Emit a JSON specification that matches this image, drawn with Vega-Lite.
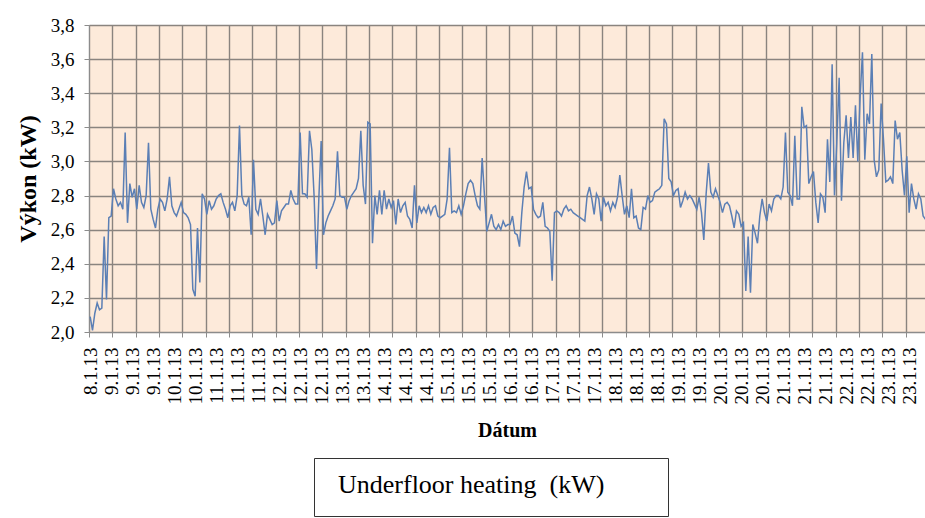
{
"$schema":"https://vega.github.io/schema/vega-lite/v6.json",
"width":836,"height":307,
"autosize":{"type":"none"},
"padding":{"left":89,"top":25,"right":0,"bottom":186},
"background":"#ffffff",
"config":{
 "locale":{"number":{"decimal":",","thousands":" ","grouping":[3],"currency":["",""]}},
 "view":{"fill":"#FDEADA","stroke":null},
 "axis":{"labelFont":"Liberation Serif","titleFont":"Liberation Serif","labelColor":"#000000","titleColor":"#000000","labelFontSize":19,"gridColor":"#8a847f","gridWidth":1.4,"domainColor":"#8c8c8c","tickColor":"#8c8c8c"}
},
"data":{"values":[
{"t":"2013-01-08T19:00","v":2.09},{"t":"2013-01-08T20:00","v":2.01},{"t":"2013-01-08T21:00","v":2.11},{"t":"2013-01-08T22:00","v":2.17},{"t":"2013-01-08T23:00","v":2.13},
{"t":"2013-01-09T00:00","v":2.14},{"t":"2013-01-09T01:00","v":2.56},{"t":"2013-01-09T02:00","v":2.19},{"t":"2013-01-09T03:00","v":2.67},{"t":"2013-01-09T04:00","v":2.68},{"t":"2013-01-09T05:00","v":2.84},{"t":"2013-01-09T06:00","v":2.78},{"t":"2013-01-09T07:00","v":2.74},{"t":"2013-01-09T08:00","v":2.76},{"t":"2013-01-09T09:00","v":2.72},{"t":"2013-01-09T10:00","v":3.17},{"t":"2013-01-09T11:00","v":2.64},{"t":"2013-01-09T12:00","v":2.87},{"t":"2013-01-09T13:00","v":2.79},{"t":"2013-01-09T14:00","v":2.84},{"t":"2013-01-09T15:00","v":2.72},{"t":"2013-01-09T16:00","v":2.86},{"t":"2013-01-09T17:00","v":2.76},{"t":"2013-01-09T18:00","v":2.73},{"t":"2013-01-09T19:00","v":2.80},{"t":"2013-01-09T20:00","v":3.11},{"t":"2013-01-09T21:00","v":2.72},{"t":"2013-01-09T22:00","v":2.66},{"t":"2013-01-09T23:00","v":2.61},
{"t":"2013-01-10T00:00","v":2.72},{"t":"2013-01-10T01:00","v":2.78},{"t":"2013-01-10T02:00","v":2.76},{"t":"2013-01-10T03:00","v":2.71},{"t":"2013-01-10T04:00","v":2.78},{"t":"2013-01-10T05:00","v":2.91},{"t":"2013-01-10T06:00","v":2.74},{"t":"2013-01-10T07:00","v":2.70},{"t":"2013-01-10T08:00","v":2.68},{"t":"2013-01-10T09:00","v":2.72},{"t":"2013-01-10T10:00","v":2.76},{"t":"2013-01-10T11:00","v":2.70},{"t":"2013-01-10T12:00","v":2.69},{"t":"2013-01-10T13:00","v":2.67},{"t":"2013-01-10T14:00","v":2.63},{"t":"2013-01-10T15:00","v":2.25},{"t":"2013-01-10T16:00","v":2.21},{"t":"2013-01-10T17:00","v":2.61},{"t":"2013-01-10T18:00","v":2.29},{"t":"2013-01-10T19:00","v":2.81},{"t":"2013-01-10T20:00","v":2.78},{"t":"2013-01-10T21:00","v":2.69},{"t":"2013-01-10T22:00","v":2.77},{"t":"2013-01-10T23:00","v":2.72},
{"t":"2013-01-11T00:00","v":2.74},{"t":"2013-01-11T01:00","v":2.78},{"t":"2013-01-11T02:00","v":2.80},{"t":"2013-01-11T03:00","v":2.81},{"t":"2013-01-11T04:00","v":2.76},{"t":"2013-01-11T05:00","v":2.72},{"t":"2013-01-11T06:00","v":2.67},{"t":"2013-01-11T07:00","v":2.74},{"t":"2013-01-11T08:00","v":2.76},{"t":"2013-01-11T09:00","v":2.71},{"t":"2013-01-11T10:00","v":2.80},{"t":"2013-01-11T11:00","v":3.21},{"t":"2013-01-11T12:00","v":2.80},{"t":"2013-01-11T13:00","v":2.75},{"t":"2013-01-11T14:00","v":2.74},{"t":"2013-01-11T15:00","v":2.79},{"t":"2013-01-11T16:00","v":2.57},{"t":"2013-01-11T17:00","v":3.01},{"t":"2013-01-11T18:00","v":2.72},{"t":"2013-01-11T19:00","v":2.69},{"t":"2013-01-11T20:00","v":2.78},{"t":"2013-01-11T21:00","v":2.68},{"t":"2013-01-11T22:00","v":2.57},{"t":"2013-01-11T23:00","v":2.69},
{"t":"2013-01-12T00:00","v":2.66},{"t":"2013-01-12T01:00","v":2.63},{"t":"2013-01-12T02:00","v":2.64},{"t":"2013-01-12T03:00","v":2.77},{"t":"2013-01-12T04:00","v":2.65},{"t":"2013-01-12T05:00","v":2.71},{"t":"2013-01-12T06:00","v":2.73},{"t":"2013-01-12T07:00","v":2.75},{"t":"2013-01-12T08:00","v":2.75},{"t":"2013-01-12T09:00","v":2.83},{"t":"2013-01-12T10:00","v":2.78},{"t":"2013-01-12T11:00","v":2.75},{"t":"2013-01-12T12:00","v":2.75},{"t":"2013-01-12T13:00","v":3.17},{"t":"2013-01-12T14:00","v":2.81},{"t":"2013-01-12T15:00","v":2.81},{"t":"2013-01-12T16:00","v":2.79},{"t":"2013-01-12T17:00","v":3.18},{"t":"2013-01-12T18:00","v":3.07},{"t":"2013-01-12T19:00","v":2.79},{"t":"2013-01-12T20:00","v":2.37},{"t":"2013-01-12T21:00","v":2.78},{"t":"2013-01-12T22:00","v":3.12},{"t":"2013-01-12T23:00","v":2.57},
{"t":"2013-01-13T00:00","v":2.64},{"t":"2013-01-13T01:00","v":2.68},{"t":"2013-01-13T02:00","v":2.71},{"t":"2013-01-13T03:00","v":2.74},{"t":"2013-01-13T04:00","v":2.78},{"t":"2013-01-13T05:00","v":3.06},{"t":"2013-01-13T06:00","v":2.80},{"t":"2013-01-13T07:00","v":2.79},{"t":"2013-01-13T08:00","v":2.79},{"t":"2013-01-13T09:00","v":2.72},{"t":"2013-01-13T10:00","v":2.77},{"t":"2013-01-13T11:00","v":2.80},{"t":"2013-01-13T12:00","v":2.82},{"t":"2013-01-13T13:00","v":2.84},{"t":"2013-01-13T14:00","v":2.90},{"t":"2013-01-13T15:00","v":3.18},{"t":"2013-01-13T16:00","v":2.86},{"t":"2013-01-13T17:00","v":2.75},{"t":"2013-01-13T18:00","v":3.23},{"t":"2013-01-13T19:00","v":3.22},{"t":"2013-01-13T20:00","v":2.52},{"t":"2013-01-13T21:00","v":2.80},{"t":"2013-01-13T22:00","v":2.69},{"t":"2013-01-13T23:00","v":2.83},
{"t":"2013-01-14T00:00","v":2.69},{"t":"2013-01-14T01:00","v":2.83},{"t":"2013-01-14T02:00","v":2.72},{"t":"2013-01-14T03:00","v":2.78},{"t":"2013-01-14T04:00","v":2.73},{"t":"2013-01-14T05:00","v":2.77},{"t":"2013-01-14T06:00","v":2.63},{"t":"2013-01-14T07:00","v":2.78},{"t":"2013-01-14T08:00","v":2.70},{"t":"2013-01-14T09:00","v":2.74},{"t":"2013-01-14T10:00","v":2.76},{"t":"2013-01-14T11:00","v":2.68},{"t":"2013-01-14T12:00","v":2.66},{"t":"2013-01-14T13:00","v":2.61},{"t":"2013-01-14T14:00","v":2.86},{"t":"2013-01-14T15:00","v":2.64},{"t":"2013-01-14T16:00","v":2.74},{"t":"2013-01-14T17:00","v":2.70},{"t":"2013-01-14T18:00","v":2.73},{"t":"2013-01-14T19:00","v":2.70},{"t":"2013-01-14T20:00","v":2.74},{"t":"2013-01-14T21:00","v":2.69},{"t":"2013-01-14T22:00","v":2.73},{"t":"2013-01-14T23:00","v":2.74},
{"t":"2013-01-15T00:00","v":2.68},{"t":"2013-01-15T01:00","v":2.67},{"t":"2013-01-15T02:00","v":2.68},{"t":"2013-01-15T03:00","v":2.69},{"t":"2013-01-15T04:00","v":2.78},{"t":"2013-01-15T05:00","v":3.08},{"t":"2013-01-15T06:00","v":2.70},{"t":"2013-01-15T07:00","v":2.71},{"t":"2013-01-15T08:00","v":2.70},{"t":"2013-01-15T09:00","v":2.74},{"t":"2013-01-15T10:00","v":2.69},{"t":"2013-01-15T11:00","v":2.74},{"t":"2013-01-15T12:00","v":2.81},{"t":"2013-01-15T13:00","v":2.87},{"t":"2013-01-15T14:00","v":2.89},{"t":"2013-01-15T15:00","v":2.87},{"t":"2013-01-15T16:00","v":2.80},{"t":"2013-01-15T17:00","v":2.74},{"t":"2013-01-15T18:00","v":2.72},{"t":"2013-01-15T19:00","v":3.02},{"t":"2013-01-15T20:00","v":2.80},{"t":"2013-01-15T21:00","v":2.59},{"t":"2013-01-15T22:00","v":2.64},{"t":"2013-01-15T23:00","v":2.69},
{"t":"2013-01-16T00:00","v":2.62},{"t":"2013-01-16T01:00","v":2.60},{"t":"2013-01-16T02:00","v":2.63},{"t":"2013-01-16T03:00","v":2.60},{"t":"2013-01-16T04:00","v":2.65},{"t":"2013-01-16T05:00","v":2.62},{"t":"2013-01-16T06:00","v":2.63},{"t":"2013-01-16T07:00","v":2.63},{"t":"2013-01-16T08:00","v":2.68},{"t":"2013-01-16T09:00","v":2.58},{"t":"2013-01-16T10:00","v":2.57},{"t":"2013-01-16T11:00","v":2.50},{"t":"2013-01-16T12:00","v":2.70},{"t":"2013-01-16T13:00","v":2.85},{"t":"2013-01-16T14:00","v":2.94},{"t":"2013-01-16T15:00","v":2.84},{"t":"2013-01-16T16:00","v":2.85},{"t":"2013-01-16T17:00","v":2.72},{"t":"2013-01-16T18:00","v":2.69},{"t":"2013-01-16T19:00","v":2.67},{"t":"2013-01-16T20:00","v":2.68},{"t":"2013-01-16T21:00","v":2.76},{"t":"2013-01-16T22:00","v":2.62},{"t":"2013-01-16T23:00","v":2.61},
{"t":"2013-01-17T00:00","v":2.59},{"t":"2013-01-17T01:00","v":2.30},{"t":"2013-01-17T02:00","v":2.70},{"t":"2013-01-17T03:00","v":2.71},{"t":"2013-01-17T04:00","v":2.70},{"t":"2013-01-17T05:00","v":2.68},{"t":"2013-01-17T06:00","v":2.72},{"t":"2013-01-17T07:00","v":2.74},{"t":"2013-01-17T08:00","v":2.71},{"t":"2013-01-17T09:00","v":2.72},{"t":"2013-01-17T10:00","v":2.70},{"t":"2013-01-17T11:00","v":2.69},{"t":"2013-01-17T12:00","v":2.68},{"t":"2013-01-17T13:00","v":2.67},{"t":"2013-01-17T14:00","v":2.66},{"t":"2013-01-17T15:00","v":2.65},{"t":"2013-01-17T16:00","v":2.80},{"t":"2013-01-17T17:00","v":2.85},{"t":"2013-01-17T18:00","v":2.78},{"t":"2013-01-17T19:00","v":2.69},{"t":"2013-01-17T20:00","v":2.81},{"t":"2013-01-17T21:00","v":2.78},{"t":"2013-01-17T22:00","v":2.65},{"t":"2013-01-17T23:00","v":2.79},
{"t":"2013-01-18T00:00","v":2.74},{"t":"2013-01-18T01:00","v":2.76},{"t":"2013-01-18T02:00","v":2.71},{"t":"2013-01-18T03:00","v":2.76},{"t":"2013-01-18T04:00","v":2.73},{"t":"2013-01-18T05:00","v":2.79},{"t":"2013-01-18T06:00","v":2.92},{"t":"2013-01-18T07:00","v":2.80},{"t":"2013-01-18T08:00","v":2.69},{"t":"2013-01-18T09:00","v":2.74},{"t":"2013-01-18T10:00","v":2.67},{"t":"2013-01-18T11:00","v":2.84},{"t":"2013-01-18T12:00","v":2.67},{"t":"2013-01-18T13:00","v":2.68},{"t":"2013-01-18T14:00","v":2.61},{"t":"2013-01-18T15:00","v":2.60},{"t":"2013-01-18T16:00","v":2.73},{"t":"2013-01-18T17:00","v":2.72},{"t":"2013-01-18T18:00","v":2.80},{"t":"2013-01-18T19:00","v":2.76},{"t":"2013-01-18T20:00","v":2.77},{"t":"2013-01-18T21:00","v":2.82},{"t":"2013-01-18T22:00","v":2.83},{"t":"2013-01-18T23:00","v":2.84},
{"t":"2013-01-19T00:00","v":2.86},{"t":"2013-01-19T01:00","v":3.25},{"t":"2013-01-19T02:00","v":3.22},{"t":"2013-01-19T03:00","v":2.90},{"t":"2013-01-19T04:00","v":2.88},{"t":"2013-01-19T05:00","v":2.80},{"t":"2013-01-19T06:00","v":2.83},{"t":"2013-01-19T07:00","v":2.84},{"t":"2013-01-19T08:00","v":2.73},{"t":"2013-01-19T09:00","v":2.77},{"t":"2013-01-19T10:00","v":2.82},{"t":"2013-01-19T11:00","v":2.78},{"t":"2013-01-19T12:00","v":2.80},{"t":"2013-01-19T13:00","v":2.78},{"t":"2013-01-19T14:00","v":2.75},{"t":"2013-01-19T15:00","v":2.72},{"t":"2013-01-19T16:00","v":2.79},{"t":"2013-01-19T17:00","v":2.70},{"t":"2013-01-19T18:00","v":2.54},{"t":"2013-01-19T19:00","v":2.81},{"t":"2013-01-19T20:00","v":2.99},{"t":"2013-01-19T21:00","v":2.82},{"t":"2013-01-19T22:00","v":2.79},{"t":"2013-01-19T23:00","v":2.84},
{"t":"2013-01-20T00:00","v":2.80},{"t":"2013-01-20T01:00","v":2.76},{"t":"2013-01-20T02:00","v":2.70},{"t":"2013-01-20T03:00","v":2.75},{"t":"2013-01-20T04:00","v":2.76},{"t":"2013-01-20T05:00","v":2.74},{"t":"2013-01-20T06:00","v":2.68},{"t":"2013-01-20T07:00","v":2.61},{"t":"2013-01-20T08:00","v":2.71},{"t":"2013-01-20T09:00","v":2.69},{"t":"2013-01-20T10:00","v":2.62},{"t":"2013-01-20T11:00","v":2.64},{"t":"2013-01-20T12:00","v":2.24},{"t":"2013-01-20T13:00","v":2.56},{"t":"2013-01-20T14:00","v":2.23},{"t":"2013-01-20T15:00","v":2.63},{"t":"2013-01-20T16:00","v":2.58},{"t":"2013-01-20T17:00","v":2.52},{"t":"2013-01-20T18:00","v":2.68},{"t":"2013-01-20T19:00","v":2.78},{"t":"2013-01-20T20:00","v":2.70},{"t":"2013-01-20T21:00","v":2.65},{"t":"2013-01-20T22:00","v":2.75},{"t":"2013-01-20T23:00","v":2.71},
{"t":"2013-01-21T00:00","v":2.78},{"t":"2013-01-21T01:00","v":2.80},{"t":"2013-01-21T02:00","v":2.80},{"t":"2013-01-21T03:00","v":2.78},{"t":"2013-01-21T04:00","v":2.85},{"t":"2013-01-21T05:00","v":3.17},{"t":"2013-01-21T06:00","v":2.82},{"t":"2013-01-21T07:00","v":2.80},{"t":"2013-01-21T08:00","v":2.74},{"t":"2013-01-21T09:00","v":3.15},{"t":"2013-01-21T10:00","v":2.78},{"t":"2013-01-21T11:00","v":2.78},{"t":"2013-01-21T12:00","v":3.32},{"t":"2013-01-21T13:00","v":3.20},{"t":"2013-01-21T14:00","v":3.21},{"t":"2013-01-21T15:00","v":2.87},{"t":"2013-01-21T16:00","v":2.91},{"t":"2013-01-21T17:00","v":2.94},{"t":"2013-01-21T18:00","v":2.76},{"t":"2013-01-21T19:00","v":2.64},{"t":"2013-01-21T20:00","v":2.81},{"t":"2013-01-21T21:00","v":2.79},{"t":"2013-01-21T22:00","v":2.70},{"t":"2013-01-21T23:00","v":3.13},
{"t":"2013-01-22T00:00","v":2.88},{"t":"2013-01-22T01:00","v":3.57},{"t":"2013-01-22T02:00","v":2.80},{"t":"2013-01-22T03:00","v":3.11},{"t":"2013-01-22T04:00","v":3.49},{"t":"2013-01-22T05:00","v":2.77},{"t":"2013-01-22T06:00","v":3.11},{"t":"2013-01-22T07:00","v":3.27},{"t":"2013-01-22T08:00","v":3.02},{"t":"2013-01-22T09:00","v":3.26},{"t":"2013-01-22T10:00","v":3.02},{"t":"2013-01-22T11:00","v":3.33},{"t":"2013-01-22T12:00","v":3.00},{"t":"2013-01-22T13:00","v":3.38},{"t":"2013-01-22T14:00","v":3.64},{"t":"2013-01-22T15:00","v":3.01},{"t":"2013-01-22T16:00","v":3.28},{"t":"2013-01-22T17:00","v":3.22},{"t":"2013-01-22T18:00","v":3.63},{"t":"2013-01-22T19:00","v":3.01},{"t":"2013-01-22T20:00","v":2.91},{"t":"2013-01-22T21:00","v":2.95},{"t":"2013-01-22T22:00","v":3.34},{"t":"2013-01-22T23:00","v":3.13},
{"t":"2013-01-23T00:00","v":2.88},{"t":"2013-01-23T01:00","v":2.89},{"t":"2013-01-23T02:00","v":2.91},{"t":"2013-01-23T03:00","v":2.87},{"t":"2013-01-23T04:00","v":3.24},{"t":"2013-01-23T05:00","v":3.13},{"t":"2013-01-23T06:00","v":3.17},{"t":"2013-01-23T07:00","v":2.95},{"t":"2013-01-23T08:00","v":2.80},{"t":"2013-01-23T09:00","v":3.03},{"t":"2013-01-23T10:00","v":2.70},{"t":"2013-01-23T11:00","v":2.87},{"t":"2013-01-23T12:00","v":2.78},{"t":"2013-01-23T13:00","v":2.72},{"t":"2013-01-23T14:00","v":2.81},{"t":"2013-01-23T15:00","v":2.78},{"t":"2013-01-23T16:00","v":2.68},{"t":"2013-01-23T17:00","v":2.66}
]},
"layer":[
 {"mark":{"type":"line","strokeOpacity":0},
  "encoding":{
   "x":{"field":"t","type":"temporal",
     "scale":{"domain":[{"year":2013,"month":1,"date":8,"hours":18,"minutes":30},{"year":2013,"month":1,"date":23,"hours":16,"minutes":48}]},
     "axis":{"orient":"bottom","grid":true,"labels":false,"ticks":true,"tickSize":5,"domain":false,"title":null,
       "values":[
        {"year":2013,"month":1,"date":8,"hours":18,"minutes":30},{"year":2013,"month":1,"date":9,"hours":4,"minutes":30},{"year":2013,"month":1,"date":9,"hours":14,"minutes":30},
        {"year":2013,"month":1,"date":10,"hours":0,"minutes":30},{"year":2013,"month":1,"date":10,"hours":10,"minutes":30},{"year":2013,"month":1,"date":10,"hours":20,"minutes":30},
        {"year":2013,"month":1,"date":11,"hours":6,"minutes":30},{"year":2013,"month":1,"date":11,"hours":16,"minutes":30},
        {"year":2013,"month":1,"date":12,"hours":2,"minutes":30},{"year":2013,"month":1,"date":12,"hours":12,"minutes":30},{"year":2013,"month":1,"date":12,"hours":22,"minutes":30},
        {"year":2013,"month":1,"date":13,"hours":8,"minutes":30},{"year":2013,"month":1,"date":13,"hours":18,"minutes":30},
        {"year":2013,"month":1,"date":14,"hours":4,"minutes":30},{"year":2013,"month":1,"date":14,"hours":14,"minutes":30},
        {"year":2013,"month":1,"date":15,"hours":0,"minutes":30},{"year":2013,"month":1,"date":15,"hours":10,"minutes":30},{"year":2013,"month":1,"date":15,"hours":20,"minutes":30},
        {"year":2013,"month":1,"date":16,"hours":6,"minutes":30},{"year":2013,"month":1,"date":16,"hours":16,"minutes":30},
        {"year":2013,"month":1,"date":17,"hours":2,"minutes":30},{"year":2013,"month":1,"date":17,"hours":12,"minutes":30},{"year":2013,"month":1,"date":17,"hours":22,"minutes":30},
        {"year":2013,"month":1,"date":18,"hours":8,"minutes":30},{"year":2013,"month":1,"date":18,"hours":18,"minutes":30},
        {"year":2013,"month":1,"date":19,"hours":4,"minutes":30},{"year":2013,"month":1,"date":19,"hours":14,"minutes":30},
        {"year":2013,"month":1,"date":20,"hours":0,"minutes":30},{"year":2013,"month":1,"date":20,"hours":10,"minutes":30},{"year":2013,"month":1,"date":20,"hours":20,"minutes":30},
        {"year":2013,"month":1,"date":21,"hours":6,"minutes":30},{"year":2013,"month":1,"date":21,"hours":16,"minutes":30},
        {"year":2013,"month":1,"date":22,"hours":2,"minutes":30},{"year":2013,"month":1,"date":22,"hours":12,"minutes":30},{"year":2013,"month":1,"date":22,"hours":22,"minutes":30},
        {"year":2013,"month":1,"date":23,"hours":8,"minutes":30}
       ]}},
   "y":{"field":"v","type":"quantitative","scale":{"domain":[2,3.8],"nice":false,"zero":false},
     "axis":{"values":[2,2.2,2.4,2.6,2.8,3,3.2,3.4,3.6,3.8],"labelOverlap":false,"format":".1f","grid":true,"tickSize":5,"labelPadding":10,"title":"Výkon (kW)","titleFontSize":24,"titleFontWeight":"bold","titlePadding":10,"domain":true}}
  }},
 {"mark":{"type":"line","strokeWidth":1.5,"clip":true},
  "encoding":{
   "x":{"field":"t","type":"temporal",
     "scale":{"domain":[{"year":2013,"month":1,"date":8,"hours":18,"minutes":30},{"year":2013,"month":1,"date":23,"hours":16,"minutes":48}]},
     "axis":{"orient":"bottom","format":"%-d.%-m.%y","labelAngle":-90,"grid":false,"ticks":false,"labelPadding":15,"labelOverlap":false,"domain":true,"title":"Dátum","titleFontSize":20,"titleFontWeight":"bold","titlePadding":16,
       "values":[
        {"year":2013,"month":1,"date":8,"hours":19},{"year":2013,"month":1,"date":9,"hours":4},{"year":2013,"month":1,"date":9,"hours":13},{"year":2013,"month":1,"date":9,"hours":22},
        {"year":2013,"month":1,"date":10,"hours":7},{"year":2013,"month":1,"date":10,"hours":16},{"year":2013,"month":1,"date":11,"hours":1},{"year":2013,"month":1,"date":11,"hours":10},
        {"year":2013,"month":1,"date":11,"hours":19},{"year":2013,"month":1,"date":12,"hours":4},{"year":2013,"month":1,"date":12,"hours":13},{"year":2013,"month":1,"date":12,"hours":22},
        {"year":2013,"month":1,"date":13,"hours":7},{"year":2013,"month":1,"date":13,"hours":16},{"year":2013,"month":1,"date":14,"hours":1},{"year":2013,"month":1,"date":14,"hours":10},
        {"year":2013,"month":1,"date":14,"hours":19},{"year":2013,"month":1,"date":15,"hours":4},{"year":2013,"month":1,"date":15,"hours":13},{"year":2013,"month":1,"date":15,"hours":22},
        {"year":2013,"month":1,"date":16,"hours":7},{"year":2013,"month":1,"date":16,"hours":16},{"year":2013,"month":1,"date":17,"hours":1},{"year":2013,"month":1,"date":17,"hours":10},
        {"year":2013,"month":1,"date":17,"hours":19},{"year":2013,"month":1,"date":18,"hours":4},{"year":2013,"month":1,"date":18,"hours":13},{"year":2013,"month":1,"date":18,"hours":22},
        {"year":2013,"month":1,"date":19,"hours":7},{"year":2013,"month":1,"date":19,"hours":16},{"year":2013,"month":1,"date":20,"hours":1},{"year":2013,"month":1,"date":20,"hours":10},
        {"year":2013,"month":1,"date":20,"hours":19},{"year":2013,"month":1,"date":21,"hours":4},{"year":2013,"month":1,"date":21,"hours":13},{"year":2013,"month":1,"date":21,"hours":22},
        {"year":2013,"month":1,"date":22,"hours":7},{"year":2013,"month":1,"date":22,"hours":16},{"year":2013,"month":1,"date":23,"hours":1},{"year":2013,"month":1,"date":23,"hours":10}
       ]}},
   "y":{"field":"v","type":"quantitative",
     "axis":{"values":[2,2.2,2.4,2.6,2.8,3,3.2,3.4,3.6,3.8],"labelOverlap":false,"format":".1f","grid":true,"tickSize":5,"labelPadding":10,"title":"Výkon (kW)","titleFontSize":24,"titleFontWeight":"bold","titlePadding":10,"domain":true}},
   "color":{"datum":"Underfloor heating\u00a0 (kW)\u00a0\u00a0\u00a0\u00a0\u00a0\u00a0\u00a0\u200b","type":"nominal","scale":{"range":["#5B7FB5"]},
     "legend":{"orient":"none","legendX":225,"legendY":433,"title":null,"padding":18,"strokeColor":"#333333","fillColor":"#ffffff","symbolSize":1156,"symbolStrokeWidth":0,"symbolOpacity":0,"symbolFillColor":"transparent","symbolStrokeColor":"transparent","labelOffset":-28,"labelFont":"Liberation Serif","labelFontSize":26,"labelColor":"#000000","labelLimit":600,"labelBaseline":"alphabetic"}}
  }}
],
"resolve":{"scale":{"x":"independent"},"axis":{"x":"independent"}}
}
